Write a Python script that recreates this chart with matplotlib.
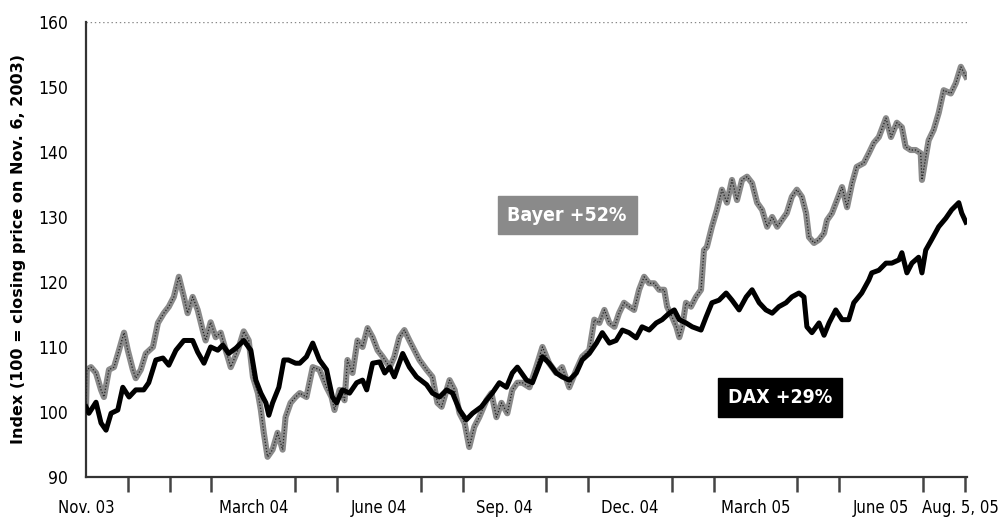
import numpy as np
import matplotlib
matplotlib.use("Agg")
import matplotlib.pyplot as plt
from matplotlib.ticker import FixedLocator, NullFormatter

# months since start of Nov. 2003 and index values
dax_m = [0.00, 0.07, 0.24, 0.36, 0.48, 0.60, 0.76, 0.88, 1.03, 1.19, 1.38, 1.50, 1.67, 1.84,
         1.98, 2.15, 2.34, 2.55, 2.67, 2.82, 2.98, 3.15, 3.27, 3.41, 3.58, 3.77, 3.94, 4.06,
         4.18, 4.30, 4.37, 4.46, 4.61, 4.73, 4.84, 5.01, 5.11, 5.27, 5.42, 5.58, 5.75, 5.89,
         5.99, 6.13, 6.30, 6.47, 6.61, 6.71, 6.85, 7.02, 7.14, 7.26, 7.37, 7.57, 7.73, 7.90,
         8.14, 8.28, 8.45, 8.62, 8.76, 8.93, 9.09, 9.24, 9.45, 9.57, 9.71, 9.88, 10.05, 10.19,
         10.31, 10.53, 10.67, 10.91, 11.07, 11.24, 11.38, 11.55, 11.72, 11.86, 12.03, 12.20,
         12.34, 12.51, 12.67, 12.82, 12.98, 13.15, 13.29, 13.46, 13.63, 13.77, 13.94, 14.06,
         14.18, 14.34, 14.49, 14.70, 14.82, 14.96, 15.13, 15.30, 15.44, 15.61, 15.78, 15.92,
         16.09, 16.25, 16.40, 16.56, 16.73, 16.87, 17.04, 17.16, 17.23, 17.35, 17.52, 17.64,
         17.76, 17.92, 18.07, 18.23, 18.35, 18.54, 18.71, 18.78, 18.95, 19.12, 19.26, 19.43,
         19.50, 19.62, 19.74, 19.90, 19.98, 20.07, 20.21, 20.38, 20.55, 20.69, 20.86, 20.93,
         21.03]
dax_v = [100.8, 99.8, 101.5, 98.3, 97.2, 99.8, 100.3, 103.8, 102.3, 103.4, 103.4, 104.5, 108.0, 108.3,
         107.2, 109.5, 111.0, 111.0, 109.2, 107.5, 110.0, 109.5, 110.3, 109.0, 109.8, 111.0, 109.5, 104.9,
         102.9, 101.4, 99.5, 101.4, 103.8, 108.0, 108.0, 107.5, 107.5, 108.5, 110.6, 108.0, 106.5, 102.3,
         101.4, 103.4, 102.9, 104.5, 104.9, 103.4, 107.5, 107.7, 106.0, 106.9, 105.4, 109.0, 106.9, 105.4,
         104.2, 102.9, 102.3, 103.4, 102.9, 100.3, 98.8, 99.8, 100.8, 101.8, 102.9, 104.5, 103.8, 106.0,
         106.9, 104.9, 104.5, 108.5, 107.5, 106.0, 105.4, 104.9, 106.0, 108.0, 109.0, 110.6,
         112.2, 110.6, 111.0, 112.6, 112.2, 111.4, 113.1, 112.6, 113.7, 114.2, 115.2, 115.7,
         114.2, 113.7, 113.1, 112.6, 114.6, 116.8, 117.2, 118.3, 117.2, 115.7, 117.7, 118.8,
         116.8, 115.7, 115.2, 116.2, 116.8, 117.7, 118.3, 117.7, 113.1, 112.2, 113.7, 111.8,
         113.7, 115.7, 114.2, 114.2, 116.8, 118.3, 120.3, 121.4, 121.8, 122.9, 122.9, 123.4,
         124.5, 121.4, 122.9, 123.8, 121.4, 124.9, 126.5, 128.5, 129.8, 131.1, 132.2, 130.6,
         129.2]

bayer_m = [0.00, 0.02, 0.12, 0.24, 0.36, 0.43, 0.55, 0.67, 0.79, 0.91, 1.00, 1.12, 1.19, 1.31,
           1.43, 1.60, 1.72, 1.86, 1.98, 2.10, 2.22, 2.34, 2.43, 2.55, 2.67, 2.79, 2.86, 2.98,
           3.10, 3.22, 3.34, 3.46, 3.63, 3.77, 3.89, 3.99, 4.11, 4.18, 4.25, 4.34, 4.46, 4.58,
           4.70, 4.77, 4.89, 5.01, 5.11, 5.27, 5.42, 5.58, 5.75, 5.87, 5.94, 6.06, 6.18, 6.25,
           6.37, 6.49, 6.61, 6.73, 6.85, 6.97, 7.09, 7.26, 7.37, 7.49, 7.61, 7.73, 7.85, 7.97,
           8.14, 8.28, 8.40, 8.50, 8.62, 8.69, 8.81, 8.93, 9.05, 9.16, 9.28, 9.40, 9.57, 9.69,
           9.81, 9.93, 10.07, 10.19, 10.31, 10.43, 10.60, 10.76, 10.91, 11.07, 11.24, 11.38,
           11.55, 11.72, 11.86, 12.03, 12.15, 12.27, 12.39, 12.51, 12.63, 12.74, 12.86, 12.98,
           13.10, 13.22, 13.34, 13.46, 13.58, 13.70, 13.82, 13.89, 14.01, 14.11, 14.18, 14.25,
           14.34, 14.46, 14.58, 14.70, 14.77, 14.84, 14.96, 15.08, 15.20, 15.32, 15.44, 15.56,
           15.68, 15.80, 15.92, 16.04, 16.16, 16.28, 16.40, 16.52, 16.63, 16.75, 16.87, 16.99,
           17.11, 17.21, 17.28, 17.40, 17.52, 17.64, 17.71, 17.83, 17.95, 18.07, 18.19, 18.31,
           18.42, 18.59, 18.71, 18.83, 18.95, 19.12, 19.24, 19.38, 19.50, 19.59, 19.71, 19.83,
           19.95, 19.98, 20.07, 20.14, 20.26, 20.38, 20.50, 20.67, 20.79, 20.91, 20.98, 21.03]
bayer_v = [100.0, 106.5, 106.9, 106.0, 103.4, 102.3, 106.5, 106.9, 109.5, 112.2, 109.5, 106.5, 105.2, 106.5,
           109.0, 110.0, 113.7, 115.2, 116.2, 117.7, 120.8, 117.7, 115.2, 117.7, 115.7, 112.6, 111.0, 113.8,
           111.5, 112.2, 109.5, 106.9, 109.5, 112.4, 111.0, 105.4, 102.9, 100.3, 96.8, 93.1, 94.2, 96.8,
           94.2, 99.2, 101.4, 102.3, 102.9, 102.3, 106.9, 106.5, 103.8, 102.3, 100.3, 103.4, 101.8, 108.0,
           106.0, 111.0, 110.0, 112.9, 111.5, 109.5, 108.5, 106.9, 108.5, 111.5, 112.6, 111.0, 109.5, 108.0,
           106.5, 105.4, 101.4, 100.8, 103.4, 104.9, 103.4, 99.8, 98.3, 94.6, 97.7, 99.2, 101.8, 102.9,
           99.2, 101.4, 99.8, 103.4, 104.5, 104.5, 103.8, 106.9, 110.0, 107.5, 106.0, 106.9,
           103.8, 106.5, 108.5, 109.5, 114.2, 113.7, 115.7, 113.7, 113.1, 115.2, 116.8, 116.2,
           115.7, 118.8, 120.8, 119.8, 119.8, 118.8, 118.8, 116.2, 114.6, 113.1, 111.5, 113.1,
           116.8, 116.2, 117.7, 118.8, 124.9, 125.4, 128.5, 131.1, 134.2, 132.2, 135.7, 132.6,
           135.7, 136.2, 135.2, 132.2, 131.1, 128.5, 130.0, 128.5, 129.5, 130.6, 133.1, 134.2,
           133.1, 130.6, 126.9, 126.0, 126.5, 127.5, 129.5, 130.6, 132.6, 134.6, 131.5, 135.2,
           137.7, 138.3, 139.8, 141.4, 142.3, 145.2, 142.3, 144.5, 143.8, 140.8, 140.3, 140.3,
           139.8, 135.7, 139.2, 141.8, 143.4, 146.0, 149.5, 149.0, 150.6, 153.1, 152.2, 151.6]

tick_pos = [0, 4, 7, 10, 13, 16, 19, 20.9]
tick_lab = ["Nov. 03", "March 04", "June 04", "Sep. 04", "Dec. 04", "March 05", "June 05", "Aug. 5, 05"]
month_ticks = list(range(0, 22))
y_ticks = [90, 100, 110, 120, 130, 140, 150, 160]

cond = dict(family="DejaVu Sans", fontstretch="condensed")

fig = plt.figure(figsize=(10.02, 5.23), dpi=100)
ax = fig.add_axes([0.0858, 0.088, 0.879, 0.870])

# bayer: grey band with a fine dark texture
ax.plot(bayer_m, bayer_v, color="#8a8a8a", lw=4.4, solid_joinstyle="round", zorder=2)
ax.plot(bayer_m, bayer_v, color="#222222", lw=0.9, dashes=(1, 1.5), zorder=3)
ax.plot(dax_m, dax_v, color="black", lw=3.6, solid_joinstyle="round", zorder=4)

ax.set_xlim(0, 21.05)
ax.set_ylim(90, 160)

ax.axhline(160, color="#888888", lw=1.0, ls=(0, (1, 2)), zorder=1)

for s in ["top", "right"]:
    ax.spines[s].set_visible(False)
ax.spines["left"].set_linestyle((0, (1, 1)))
ax.spines["left"].set_linewidth(1.6)
ax.spines["left"].set_color("#333333")
ax.spines["bottom"].set_linestyle((0, (2, 1)))
ax.spines["bottom"].set_linewidth(1.6)
ax.spines["bottom"].set_color("#333333")

ax.xaxis.set_major_locator(FixedLocator(tick_pos))
ax.set_xticklabels(tick_lab, fontsize=12, **cond)
ax.xaxis.set_minor_locator(FixedLocator(month_ticks))
ax.xaxis.set_minor_formatter(NullFormatter())
ax.tick_params(axis="x", which="minor", length=11, width=1.8, color="#444444")
ax.tick_params(axis="x", which="major", length=0, pad=16)

ax.set_yticks(y_ticks)
ax.set_yticklabels([str(v) for v in y_ticks], fontsize=12.5, **cond)
ax.tick_params(axis="y", length=0, pad=13)

ax.set_ylabel("Index (100 = closing price on Nov. 6, 2003)", fontsize=11.5,
              fontweight="bold", family="DejaVu Sans", labelpad=9)

ax.text(11.5, 130.3, "Bayer +52%", color="white", fontsize=14, fontweight="bold",
        ha="center", va="center", zorder=6, **cond,
        bbox=dict(boxstyle="square,pad=0.5", facecolor="#8a8a8a", edgecolor="#8a8a8a"))
ax.text(16.59, 102.2, "DAX +29%", color="white", fontsize=14, fontweight="bold",
        ha="center", va="center", zorder=6, **cond,
        bbox=dict(boxstyle="square,pad=0.5", facecolor="black", edgecolor="black"))

fig.savefig("out.png", dpi=100)
